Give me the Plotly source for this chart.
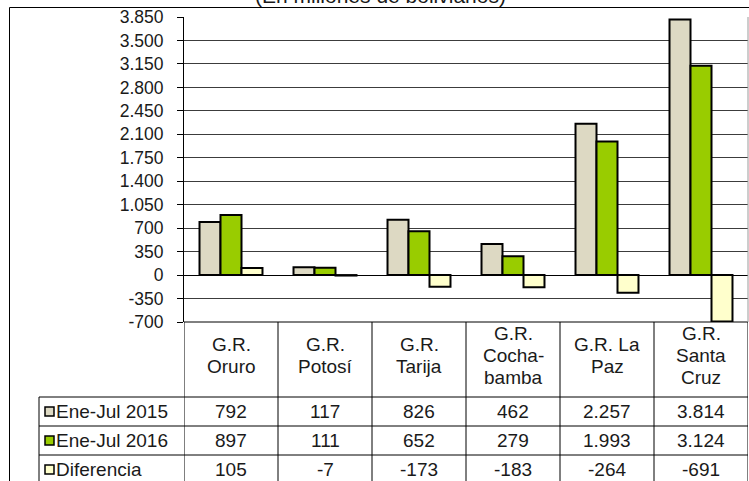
import plotly.graph_objects as go

# ---------------- data ----------------
categories = ["G.R.<br>Oruro", "G.R.<br>Potosí", "G.R.<br>Tarija",
              "G.R.<br>Cocha-<br>bamba", "G.R. La<br>Paz", "G.R.<br>Santa<br>Cruz"]
series_names = ["Ene-Jul 2015", "Ene-Jul 2016", "Diferencia"]
ene_jul_2015 = [792, 117, 826, 462, 2257, 3814]
ene_jul_2016 = [897, 111, 652, 279, 1993, 3124]
diferencia = [105, -7, -173, -183, -264, -691]
tick_values = [-700, -350, 0, 350, 700, 1050, 1400, 1750, 2100, 2450, 2800, 3150, 3500, 3850]
tick_labels = ["-700", "-350", "0", "350", "700", "1.050", "1.400", "1.750", "2.100",
               "2.450", "2.800", "3.150", "3.500", "3.850"]
title_text = "(En millones de bolivianos)"

colors = ["#DDD9C3", "#99CC00", "#FFFFCC"]
series_values = [ene_jul_2015, ene_jul_2016, diferencia]

# ---------------- geometry (pixels) ----------------
W, H = 749, 481
L, R, T, B = 184, 748, 17, 322
FONT = "Liberation Sans, Arial, sans-serif"
TXT = "#1a1a1a"
TABLE_FS = 19


def px_x(x):
    return (x - L) / (R - L)


def px_y(y):
    return (B - y) / (B - T)


def fmt(v):
    return f"{v:,}".replace(",", ".")


x_idx = list(range(len(categories)))

fig = go.Figure()
for name, vals, col in zip(series_names, series_values, colors):
    fig.add_trace(go.Bar(
        x=x_idx, y=vals, name=name,
        marker=dict(color=col, line=dict(color="black", width=2)),
        showlegend=False,
    ))

shapes = []
annotations = []

# outer frame
shapes.append(dict(type="rect", xref="paper", yref="paper",
                   x0=px_x(9.5), x1=px_x(800), y0=px_y(7.5), y1=px_y(520),
                   line=dict(color="black", width=1), layer="below"))

# table geometry
header_bottom = 397
header_center = 355
header_line_gap = 22
row_edges = [397, 426, 455, 484]
label_left = 39
table_bottom = 490

# header top line (plot bottom)
shapes.append(dict(type="line", xref="paper", yref="paper",
                   x0=0, x1=1, y0=0, y1=0, line=dict(color="black", width=1)))
# row lines
for ry in row_edges[:-1]:
    shapes.append(dict(type="line", xref="paper", yref="paper",
                       x0=px_x(label_left), x1=1, y0=px_y(ry), y1=px_y(ry),
                       line=dict(color="black", width=1)))
# vertical column lines
for i in range(len(categories) + 1):
    shapes.append(dict(type="line", xref="x", yref="paper",
                       x0=i - 0.5, x1=i - 0.5, y0=0, y1=px_y(table_bottom),
                       line=dict(color="black", width=1)))
# right plot border (gray)
shapes.append(dict(type="line", xref="paper", yref="paper",
                   x0=1, x1=1, y0=0, y1=1, line=dict(color="#9a9a9a", width=1)))
# label column left line
shapes.append(dict(type="line", xref="paper", yref="paper",
                   x0=px_x(label_left), x1=px_x(label_left),
                   y0=px_y(header_bottom), y1=px_y(table_bottom),
                   line=dict(color="black", width=1)))

# header labels (one annotation per line, fixed line spacing)
for i, cat in enumerate(categories):
    lines = cat.split("<br>")
    n = len(lines)
    for k, ln in enumerate(lines):
        yc = header_center + (k - (n - 1) / 2) * header_line_gap
        annotations.append(dict(xref="x", yref="paper", x=i, y=px_y(yc),
                                text=ln, showarrow=False, xanchor="center",
                                yanchor="middle",
                                font=dict(family=FONT, size=TABLE_FS, color=TXT)))

# data rows
for r, (name, vals, col) in enumerate(zip(series_names, series_values, colors)):
    yc = (row_edges[r] + row_edges[r + 1]) / 2
    # legend key
    shapes.append(dict(type="rect", xref="paper", yref="paper",
                       x0=px_x(45), x1=px_x(54), y0=px_y(yc - 4.5), y1=px_y(yc + 4.5),
                       fillcolor=col, line=dict(color="black", width=1.5)))
    annotations.append(dict(xref="paper", yref="paper", x=px_x(54), y=px_y(yc),
                            text=name, showarrow=False, xanchor="left", yanchor="middle",
                            font=dict(family=FONT, size=TABLE_FS, color=TXT)))
    for i, v in enumerate(vals):
        annotations.append(dict(xref="x", yref="paper", x=i, y=px_y(yc),
                                text=fmt(v), showarrow=False, xanchor="center",
                                yanchor="middle",
                                font=dict(family=FONT, size=TABLE_FS, color=TXT)))

# title (partly cut off at the top, as in the reference)
annotations.append(dict(xref="paper", yref="paper", x=px_x(380), y=px_y(-4),
                        text=title_text, showarrow=False, xanchor="center", yanchor="middle",
                        font=dict(family=FONT, size=21, color=TXT)))

fig.update_layout(
    width=W, height=H,
    margin=dict(l=L, r=W - R, t=T, b=H - B, pad=0),
    paper_bgcolor="white", plot_bgcolor="white",
    barmode="group", bargap=0.33, bargroupgap=0,
    shapes=shapes, annotations=annotations,
    showlegend=False,
    font=dict(family=FONT, size=17, color=TXT),
    xaxis=dict(range=[-0.5, len(categories) - 0.5], showticklabels=False,
               showgrid=False, zeroline=False, showline=False, ticks=""),
    yaxis=dict(range=[-700, 3850], tickvals=tick_values, ticktext=tick_labels,
               showgrid=True, gridcolor="#3c3c3c", gridwidth=1,
               zeroline=True, zerolinecolor="black", zerolinewidth=1,
               showline=True, linecolor="black", linewidth=1,
               ticks="outside", ticklen=6, tickcolor="black",
               ticklabelstandoff=10,
               tickfont=dict(family=FONT, size=17.5, color=TXT)),
)

fig.write_html(
    "out.html",
    config={"displayModeBar": False},
    post_script="document.body.style.margin='0';document.body.style.overflow='hidden';",
)
